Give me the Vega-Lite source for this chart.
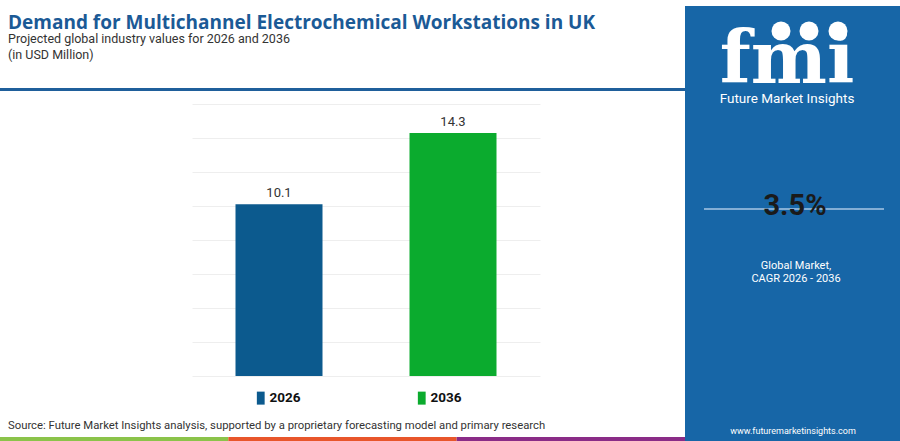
{
  "$schema": "https://vega.github.io/schema/vega-lite/v6.json",
  "background": "white",
  "padding": 0,
  "spacing": 0,
  "config": {
    "view": {"stroke": null},
    "font": "Roboto",
    "title": {"font": "Roboto", "subtitleFont": "Roboto"}
  },
  "resolve": {
    "scale": {"x": "independent", "y": "independent", "color": "independent"},
    "legend": {"color": "independent"}
  },
  "hconcat": [
    {
      "spacing": 22,
      "resolve": {
        "scale": {"x": "independent", "y": "independent", "color": "independent"},
        "legend": {"color": "independent"}
      },
      "vconcat": [
        {
          "width": 685,
          "height": 1,
          "title": {
            "text": "Demand for Multichannel Electrochemical Workstations in UK",
            "subtitle": ["Projected global industry values for 2026 and 2036", "(in USD Million)"],
            "orient": "bottom",
            "anchor": "start",
            "frame": "group",
            "dx": 8,
            "font": "Open Sans",
            "fontSize": 19,
            "fontWeight": "bold",
            "color": "#1b5a96",
            "subtitleFont": "Roboto",
            "subtitleFontSize": 12.5,
            "subtitleColor": "#333333",
            "subtitlePadding": 0,
            "subtitleLineHeight": 16,
            "offset": 2
          },
          "data": {"values": [{}]},
          "mark": {"type": "text", "text": ""}
        },
        {
          "spacing": 9,
          "resolve": {
            "scale": {"x": "independent", "y": "independent", "color": "independent"},
            "legend": {"color": "independent"}
          },
          "vconcat": [
            {
              "width": 685,
              "height": 3,
              "view": {"fill": "#1f5f9b", "stroke": null},
              "data": {"values": [{}]},
              "mark": {"type": "text", "text": ""}
            },
            {
              "spacing": 0,
              "resolve": {
                "scale": {"x": "independent", "y": "independent", "color": "independent"},
                "legend": {"color": "independent"}
              },
              "hconcat": [
                {
                  "width": 192,
                  "height": 272,
                  "data": {"values": [{}]},
                  "mark": {"type": "text", "text": ""}
                },
                {
                  "width": 348,
                  "height": 272,
                  "data": {
                    "values": [
                      {"year": "2026", "value": 10.1},
                      {"year": "2036", "value": 14.3}
                    ]
                  },
                  "encoding": {
                    "x": {
                      "field": "year",
                      "type": "nominal",
                      "axis": null,
                      "scale": {"paddingInner": 0.5, "paddingOuter": 0.25}
                    },
                    "y": {
                      "field": "value",
                      "type": "quantitative",
                      "scale": {"domain": [0, 16]},
                      "axis": {
                        "values": [0, 2, 4, 6, 8, 10, 12, 14, 16],
                        "labels": false,
                        "ticks": false,
                        "domain": false,
                        "grid": true,
                        "gridColor": "#eeeeee",
                        "gridWidth": 1,
                        "title": null,
                        "minExtent": 0,
                        "maxExtent": 0
                      }
                    }
                  },
                  "layer": [
                    {
                      "mark": {"type": "bar"},
                      "encoding": {
                        "color": {
                          "field": "year",
                          "type": "nominal",
                          "scale": {"domain": ["2026", "2036"], "range": ["#0c5a8e", "#0bab2e"]},
                          "legend": {
                            "title": null,
                            "orient": "none",
                            "direction": "horizontal",
                            "legendX": 57,
                            "legendY": 282,
                            "padding": 5,
                            "columnPadding": 114,
                            "symbolType": "M-0.6,-1H0.6V1H-0.6Z",
                            "symbolSize": 169,
                            "symbolStrokeWidth": 0,
                            "labelFont": "Roboto",
                            "labelFontSize": 13.5,
                            "labelFontWeight": "bold",
                            "labelColor": "#111111",
                            "labelOffset": 2
                          }
                        }
                      }
                    },
                    {
                      "mark": {
                        "type": "text",
                        "baseline": "bottom",
                        "dy": -4,
                        "fontSize": 13,
                        "color": "#333333"
                      },
                      "encoding": {
                        "text": {"field": "value", "type": "quantitative", "format": ".1f"}
                      }
                    }
                  ]
                }
              ]
            },
            {
              "width": 685,
              "height": 5,
              "title": {
                "text": "Source: Future Market Insights analysis, supported by a proprietary forecasting model and primary research",
                "anchor": "start",
                "frame": "group",
                "dx": 8,
                "fontSize": 11.3,
                "fontWeight": "normal",
                "color": "#333333",
                "offset": 6
              },
              "data": {
                "values": [
                  {"segment": "a", "share": 1},
                  {"segment": "b", "share": 1},
                  {"segment": "c", "share": 1}
                ]
              },
              "mark": {"type": "bar"},
              "encoding": {
                "x": {
                  "field": "segment",
                  "type": "nominal",
                  "axis": null,
                  "scale": {"paddingInner": 0, "paddingOuter": 0}
                },
                "color": {
                  "field": "segment",
                  "type": "nominal",
                  "legend": null,
                  "scale": {"domain": ["a", "b", "c"], "range": ["#8bc34a", "#e8562b", "#8a2c87"]}
                }
              }
            }
          ]
        }
      ]
    },
    {
      "width": 215,
      "height": 441,
      "view": {"fill": "#1766a7", "stroke": null},
      "data": {"values": [{}]},
      "layer": [
        {
          "mark": {"type": "text", "text": "fmi", "font": "DejaVu Serif", "fontSize": 72, "fontWeight": "bold", "color": "white", "align": "center", "baseline": "alphabetic"},
          "encoding": {"x": {"value": 102}, "y": {"value": 77}}
        },
        {
          "mark": {"type": "point", "filled": true, "color": "white", "opacity": 1, "size": 360},
          "encoding": {"x": {"value": 96}, "y": {"value": 25}}
        },
        {
          "mark": {"type": "point", "filled": true, "color": "white", "opacity": 1, "size": 360},
          "encoding": {"x": {"value": 124}, "y": {"value": 25}}
        },
        {
          "mark": {"type": "point", "filled": true, "color": "white", "opacity": 1, "size": 360},
          "encoding": {"x": {"value": 153}, "y": {"value": 25}}
        },
        {
          "mark": {"type": "text", "text": "Future Market Insights", "fontSize": 13.5, "color": "white", "align": "center", "baseline": "middle"},
          "encoding": {"x": {"value": 102}, "y": {"value": 93}}
        },
        {
          "mark": {"type": "rule", "color": "#a8c7e4", "strokeWidth": 1.5},
          "encoding": {"x": {"value": 19}, "x2": {"value": 199}, "y": {"value": 203}}
        },
        {
          "mark": {"type": "text", "text": "3.5%", "fontSize": 29, "fontWeight": "bold", "color": "#1a1a1a", "align": "center", "baseline": "middle"},
          "encoding": {"x": {"value": 110}, "y": {"value": 200}}
        },
        {
          "mark": {"type": "text", "text": ["Global Market,", "CAGR 2026 - 2036"], "lineHeight": 13, "fontSize": 11, "color": "white", "align": "center", "baseline": "middle"},
          "encoding": {"x": {"value": 111}, "y": {"value": 260}}
        },
        {
          "mark": {"type": "text", "text": "www.futuremarketinsights.com", "fontSize": 9, "color": "white", "align": "center", "baseline": "middle"},
          "encoding": {"x": {"value": 108}, "y": {"value": 425}}
        }
      ]
    }
  ]
}
